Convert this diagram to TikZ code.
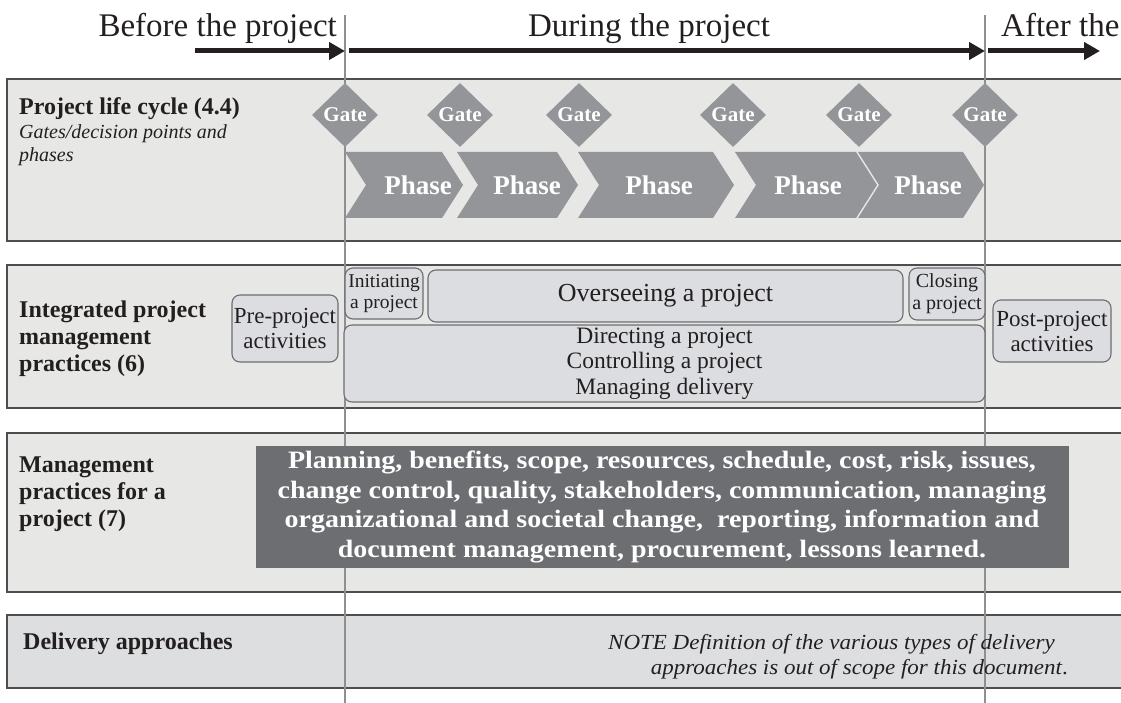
\documentclass[tikz,border=0pt]{standalone}
\usepackage{fontspec}
\setmainfont{Liberation Serif}
\usetikzlibrary{shapes.geometric,arrows.meta}
\definecolor{panelfill}{HTML}{E7E7E6}
\definecolor{panelfillb}{HTML}{DDDEDF}
\definecolor{panelline}{HTML}{4D4D4D}
\definecolor{midgray}{HTML}{939598}
\definecolor{rboxfill}{HTML}{DCDDE0}
\definecolor{rboxline}{HTML}{6D6E71}
\definecolor{darkbox}{HTML}{6D6E71}
\definecolor{vline}{HTML}{8F8F8F}
\definecolor{ink}{HTML}{231F20}
\newcommand{\fs}[2]{\fontsize{#1}{#2}\selectfont}
\newcommand{\chev}[4]{%
  \fill[midgray] (#2,152) -- (#3,152) -- (#3+21,185) -- (#3,218) -- (#2,218) -- (#2+21,185) -- cycle;
  \node[phasetext] (#1) at (#4,185) {Phase};}
\tikzset{
  panelborder/.style={draw=panelline, line width=1.5pt},
  timearrow/.style={line width=5pt, draw=ink, -{Triangle[length=16pt,width=17pt]}},
  vrule/.style={draw=vline, line width=1.8pt},
  gate/.style={diamond, aspect=1, fill=midgray, minimum width=66pt, minimum height=64pt, inner sep=0pt, text=white, font=\bfseries\fs{21}{22}},
  phasetext/.style={text=white, font=\bfseries\fs{27}{30}, inner sep=0pt},
  rbox/.style={draw=rboxline, line width=1.1pt, fill=rboxfill, rounded corners=8pt, align=center, inner sep=0pt, text=ink},
  heading/.style={font=\fs{33}{36}, text=ink, inner sep=0pt},
  label/.style={font=\bfseries\fs{24}{27}, text=ink, align=left, inner sep=0pt},
  darkrect/.style={fill=darkbox, text=white, font=\bfseries\fs{25}{29.5}\addfontfeatures{FakeStretch=1.12}, align=center, inner sep=0pt},
}
\begin{document}
\begin{tikzpicture}[x=1pt, y=-1pt]
\useasboundingbox (0,0) rectangle (1121,703);
% panels
\fill[panelfill] (7,79) rectangle (1121,241);
\draw[panelborder] (1121,79) -- (7,79) -- (7,241) -- (1121,241);
\fill[panelfill] (7,265) rectangle (1121,408);
\draw[panelborder] (1121,265) -- (7,265) -- (7,408) -- (1121,408);
\fill[panelfill] (7,433) rectangle (1121,592);
\draw[panelborder] (1121,433) -- (7,433) -- (7,592) -- (1121,592);
\fill[panelfillb] (7,615) rectangle (1121,688);
\draw[panelborder] (1121,615) -- (7,615) -- (7,688) -- (1121,688);
% vertical lines
\coordinate (v1t) at (345,15); \coordinate (v1b) at (345,703);
\coordinate (v2t) at (985,15); \coordinate (v2b) at (985,703);
\draw[vrule] (v1t) -- (v1b);
\draw[vrule] (v2t) -- (v2b);
% headings and arrows
\node[heading, anchor=base east] (before) at (337,37) {Before the project};
\node[heading, anchor=base] (during) at (649,37) {During the project};
\node[heading, anchor=base west] (after) at (1001,37) {After the};
\coordinate (a0) at (195,51); \coordinate (a1) at (345,51);
\coordinate (a2) at (349,51); \coordinate (a3) at (985,51);
\coordinate (a4) at (988,51); \coordinate (a5) at (1100,51);
\draw[timearrow] (a0) -- (a1);
\draw[timearrow] (a2) -- (a3);
\draw[timearrow] (a4) -- (a5);
% life cycle
\node[label, anchor=base west] (lc) at (19,115) {Project life cycle (4.4)};
\node[font=\itshape\fs{20}{23.5}, text=ink, align=left, inner sep=0pt, anchor=base west] (lcsub) at (19,162) {Gates/decision points and\\phases};
\chev{ph1}{345}{442}{418}
\chev{ph2}{457}{557}{527}
\chev{ph3}{578}{713}{659}
\chev{ph4}{735}{856}{808}
\chev{ph5}{858}{963}{928}
\node[gate] (g1) at (345,115) {Gate};
\node[gate] (g2) at (460,115) {Gate};
\node[gate] (g3) at (579,115) {Gate};
\node[gate] (g4) at (733,115) {Gate};
\node[gate] (g5) at (859,115) {Gate};
\node[gate] (g6) at (985,115) {Gate};
% integrated practices
\node[label, anchor=base west] (ipm) at (19,371) {Integrated project\\management\\practices (6)};
\node[rbox, minimum width=106pt, minimum height=67pt, font=\fs{23}{25}] (pre) at (285,328.5) {Pre-project\\activities};
\node[rbox, minimum width=78pt, minimum height=51pt, font=\fs{19.5}{21.5}] (init) at (384,293.5) {Initiating\\a project};
\node[rbox, minimum width=475pt, minimum height=52pt, font=\fs{26}{29}] (over) at (665.5,296) {Overseeing a project};
\node[rbox, minimum width=76pt, minimum height=52pt, font=\fs{20}{22}] (close) at (947,294) {Closing\\a project};
\node[rbox, minimum width=641pt, minimum height=77pt, font=\fs{23.5}{25.5}] (dir) at (664.5,363.5) {Directing a project\\Controlling a project\\Managing delivery};
\node[rbox, minimum width=118pt, minimum height=62pt, font=\fs{23}{25}] (post) at (1052,331) {Post-project\\activities};
% management practices
\node[label, anchor=base west] (mp) at (19,526) {Management\\practices for a\\project (7)};
\node[darkrect, minimum width=813pt, minimum height=122pt] (mgmt) at (662,507) {Planning, benefits, scope, resources, schedule, cost, risk, issues,\\change control, quality, stakeholders, communication, managing\\organizational and societal change,\ \ reporting, information and\\document management, procurement, lessons learned.};
% delivery approaches
\node[label, anchor=base west] (da) at (23,649) {Delivery approaches};
\node[font=\itshape\fs{21.5}{25}\addfontfeatures{FakeStretch=1.07}, text=ink, align=right, inner sep=0pt, anchor=base east] (note) at (1068,674) {NOTE Definition of the various types of delivery\hspace*{13pt}\\approaches is out of scope for this document{\upshape .}};
\end{tikzpicture}
\end{document}
